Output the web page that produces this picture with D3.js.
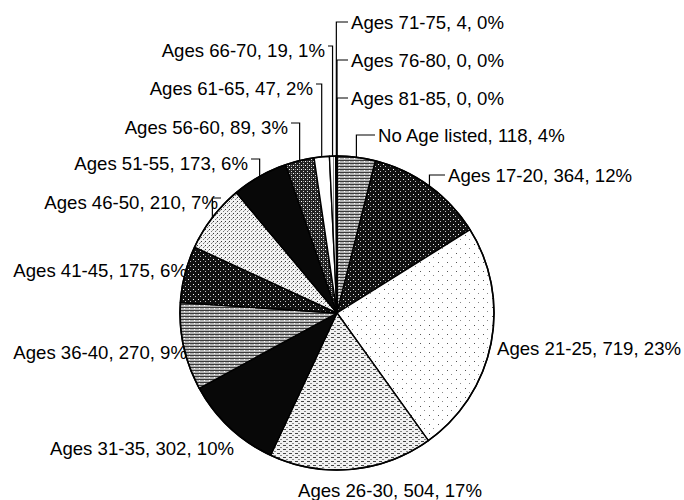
<!DOCTYPE html>
<html>
<head>
<meta charset="utf-8">
<script src="https://cdn.jsdelivr.net/npm/d3@7"></script>
<style>
  body { margin: 0; background: #fff; }
  text { font-family: "Liberation Sans", Arial, sans-serif; }
</style>
</head>
<body>
<div id="chart"></div>
<script>
const width = 684;
const height = 500;

// Data (clockwise from 12 o'clock)
const ageGroups = ["No Age listed", "Ages 17-20", "Ages 21-25", "Ages 26-30", "Ages 31-35",
  "Ages 36-40", "Ages 41-45", "Ages 46-50", "Ages 51-55", "Ages 56-60",
  "Ages 61-65", "Ages 66-70", "Ages 71-75", "Ages 76-80", "Ages 81-85"];
const counts = [118, 364, 719, 504, 302, 270, 175, 210, 173, 89, 47, 19, 4, 0, 0];
const percents = ["4%", "12%", "23%", "17%", "10%", "9%", "6%", "7%", "6%", "3%", "2%", "1%", "0%", "0%", "0%"];

// Fill pattern per slice (scanned halftones)
const fills = ["hlines-mid", "speck-dark", "sparse", "dash-light", "solid-black",
  "hlines-mid", "speck-dark", "speck-light", "solid-black", "speck-grey",
  "white", "light", "speck-grey", "white", "white"];

// Where each label sits (layout, not data)
const labelLayout = [
  { x: 378, y: 135, anchor: "start" },
  { x: 448, y: 175, anchor: "start" },
  { x: 497, y: 348, anchor: "start" },
  { x: 482, y: 490, anchor: "end" },
  { x: 50,  y: 448, anchor: "start" },
  { x: 187, y: 352, anchor: "end" },
  { x: 187, y: 270, anchor: "end" },
  { x: 218, y: 202, anchor: "end" },
  { x: 248, y: 163, anchor: "end" },
  { x: 288, y: 127, anchor: "end" },
  { x: 313, y: 88,  anchor: "end" },
  { x: 325, y: 50,  anchor: "end" },
  { x: 351, y: 22,  anchor: "start" },
  { x: 351, y: 60,  anchor: "start" },
  { x: 351, y: 98,  anchor: "start" }
];

const cx = 337, cy = 313, radius = 157;

const svg = d3.select("#chart").append("svg")
    .attr("width", width)
    .attr("height", height)
    .attr("viewBox", [0, 0, width, height]);

// halftone-ish patterns
const defs = svg.append("defs");
function pattern(id, w, h, bg, marks) {
    const p = defs.append("pattern")
        .attr("id", id)
        .attr("patternUnits", "userSpaceOnUse")
        .attr("width", w)
        .attr("height", h);
    p.append("rect").attr("width", w).attr("height", h).attr("fill", bg);
    marks.forEach(m => p.append("rect")
        .attr("x", m[0]).attr("y", m[1])
        .attr("width", m[2]).attr("height", m[3])
        .attr("fill", m[4]));
}
pattern("hlines-mid", 5, 3, "#b4b4b4", [[0, 0, 5, 1, "#3a3a3a"], [2, 1, 1, 1, "#fff"]]);
pattern("speck-dark", 5, 5, "#111", [[1, 1, 1, 1, "#fff"], [3, 3, 1, 1, "#bbb"]]);
pattern("speck-grey", 4, 4, "#222", [[0, 0, 1, 1, "#fff"], [2, 2, 1, 1, "#ddd"], [2, 0, 1, 1, "#888"]]);
pattern("sparse", 9, 9, "#fff", [[2, 3, 1, 1, "#555"], [6, 7, 1, 1, "#888"]]);
pattern("dash-light", 6, 4, "#f2f2f2", [[0, 0, 3, 1, "#444"], [3, 2, 2, 1, "#888"]]);
pattern("speck-light", 4, 4, "#f4f4f4", [[0, 0, 1, 1, "#333"], [2, 2, 1, 1, "#777"], [3, 1, 1, 1, "#aaa"]]);
pattern("solid-black", 4, 4, "#080808", []);
pattern("white", 4, 4, "#fff", []);
pattern("light", 4, 4, "#fff", [[0, 0, 1, 4, "#888"]]);

const pie = d3.pie().sort(null).value(d => d);
const arcs = pie(counts);
const arc = d3.arc().innerRadius(0).outerRadius(radius);

const g = svg.append("g").attr("transform", `translate(${cx},${cy})`);

g.selectAll("path")
    .data(arcs)
    .enter().append("path")
    .attr("d", arc)
    .attr("fill", (d, i) => `url(#${fills[i]})`)
    .attr("stroke", "#000")
    .attr("stroke-width", 1.4)
    .attr("stroke-linejoin", "round");

// outer rim
g.append("circle")
    .attr("r", radius)
    .attr("fill", "none")
    .attr("stroke", "#000")
    .attr("stroke-width", 1.6);

// edge point at the middle of a slice
function edgePoint(d) {
    const a = (d.startAngle + d.endAngle) / 2;
    return [cx + Math.sin(a) * radius, cy - Math.cos(a) * radius];
}

const leaders = svg.append("g").attr("class", "leaders");
const labels = svg.append("g").attr("class", "labels");

arcs.forEach((d, i) => {
    const pos = labelLayout[i];
    const pt = edgePoint(d);
    const text = `${ageGroups[i]}, ${counts[i]}, ${percents[i]}`;

    labels.append("text")
        .attr("x", pos.x)
        .attr("y", pos.y)
        .attr("dy", "0.35em")
        .attr("text-anchor", pos.anchor)
        .style("font-size", "18.6px")
        .style("fill", "#000")
        .text(text);

    // leader only where the label sits away from its slice
    const dist = Math.hypot(pt[0] - pos.x, pt[1] - pos.y);
    if (dist < 16 || i === 3 || i === 4) return;
    let pts;
    if (pos.anchor === "start") {
        pts = [pt, [pt[0], pos.y], [pos.x - 3, pos.y]];
    } else {
        pts = [[pos.x + 3, pos.y - 4], [pt[0], pos.y - 4], pt];
    }
    leaders.append("path")
        .attr("d", d3.line()(pts))
        .attr("fill", "none")
        .attr("stroke", "#000")
        .attr("stroke-width", 1.2);
});
</script>
</body>
</html>
